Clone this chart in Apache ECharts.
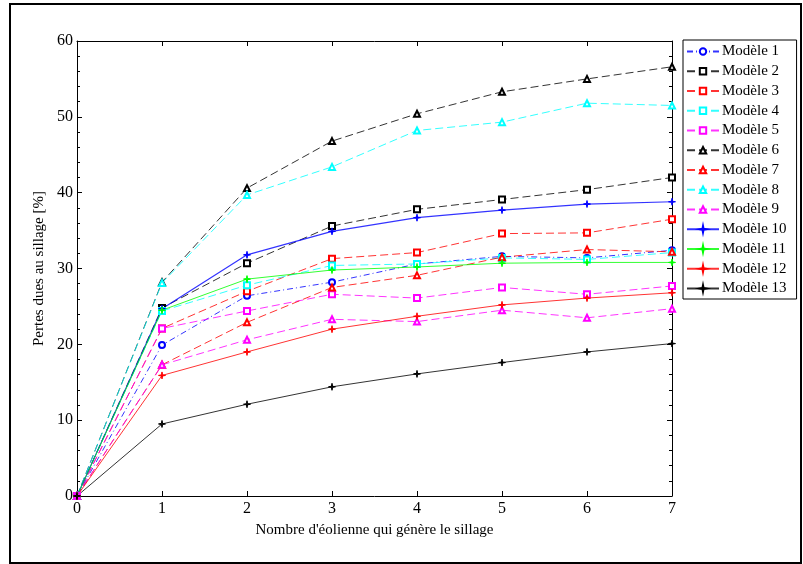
<!DOCTYPE html>
<html><head><meta charset="utf-8">
<script src="https://cdn.jsdelivr.net/npm/echarts@6/dist/echarts.min.js"></script>
<style>html,body{margin:0;padding:0;background:#fff}#c{width:803px;height:564px}</style>
</head><body><div id="c"></div>
<script>
const xCats = [0,1,2,3,4,5,6,7];
const names = ['Modèle 1','Modèle 2','Modèle 3','Modèle 4','Modèle 5','Modèle 6','Modèle 7','Modèle 8','Modèle 9','Modèle 10','Modèle 11','Modèle 12','Modèle 13'];
const m1  = [0,19.9,26.4,28.2,30.6,31.6,31.4,32.4];
const m2  = [0,24.8,30.7,35.6,37.8,39.1,40.4,42.0];
const m3  = [0,22.1,27.0,31.3,32.1,34.6,34.7,36.5];
const m4  = [0,24.4,27.8,30.4,30.6,31.4,31.2,32.1];
const m5  = [0,22.1,24.4,26.6,26.1,27.5,26.6,27.7];
const m6  = [0,28.2,40.6,46.8,50.4,53.3,55.0,56.6];
const m7  = [0,17.3,22.9,27.5,29.1,31.5,32.5,32.2];
const m8  = [0,28.1,39.7,43.4,48.2,49.3,51.8,51.5];
const m9  = [0,17.3,20.6,23.3,23.0,24.5,23.5,24.7];
const m10 = [0,24.7,31.8,34.9,36.7,37.7,38.5,38.8];
const m11 = [0,24.5,28.6,29.8,30.2,30.7,30.8,30.8];
const m12 = [0,15.9,19.0,22.0,23.7,25.2,26.1,26.8];
const m13 = [0,9.5,12.1,14.4,16.1,17.6,19.0,20.1];
const allData = [m1,m2,m3,m4,m5,m6,m7,m8,m9,m10,m11,m12,m13];

const colors = ['#0000ff','#000000','#ff0000','#00ffff','#ff00ff','#000000','#ff0000','#00ffff','#ff00ff','#0000ff','#00ff00','#ff0000','#000000'];
const star = 'path://M0,-6L1,-1L6,0L1,1L0,6L-1,1L-6,0L-1,-1Z';
const symbols = ['emptyCircle','emptyRect','emptyRect','emptyRect','emptyRect','emptyTriangle','emptyTriangle','emptyTriangle','emptyTriangle',star,star,star,star];
const types = [[6,3,1,3],[8,4],[8,4],[8,4],[8,4],[8,4],[8,4],[8,4],[8,4],'solid','solid','solid','solid'];

const F = 'Liberation Serif';
const series = allData.map((d,i)=>({
  name: names[i], type:'line', data: d.map((v,j)=>[xCats[j],v]),
  symbol: symbols[i], symbolSize: i>=9 ? 7 : 6,
  showSymbol:true,
  itemStyle:{color: colors[i], borderColor: colors[i], borderWidth:1},
  lineStyle:{color: colors[i], width: i===9?1.2:1, type: types[i], opacity:0.8},
  emphasis:{disabled:true}, animation:false, z: 2
}));

const tick = {show:true, inside:true, length:5, lineStyle:{color:'#000'}};
const chart = echarts.init(document.getElementById('c'), null, {renderer:'canvas'});
chart.setOption({
  animation:false,
  backgroundColor:'#fff',
  textStyle:{fontFamily:F},
  graphic:[{type:'rect', shape:{x:10,y:4,width:791,height:559}, style:{fill:'none', stroke:'#000', lineWidth:2}, silent:true}],
  grid:{left:77, top:41, width:595, height:455, containLabel:false},
  xAxis:[{type:'value', min:0, max:7, interval:1, position:'bottom',
    name:"Nombre d'éolienne qui génère le sillage", nameLocation:'middle', nameGap:27,
    nameTextStyle:{fontFamily:F, fontSize:15, color:'#000'},
    axisLine:{onZero:false, lineStyle:{color:'#000', width:1}}, axisTick:tick,
    axisLabel:{fontFamily:F, fontSize:16, color:'#000', margin:5}, splitLine:{show:false}},
   {type:'value', min:0, max:7, interval:1, position:'top',
    axisLine:{onZero:false, lineStyle:{color:'#000'}}, axisTick:tick,
    axisLabel:{show:false}, splitLine:{show:false}}],
  yAxis:[{type:'value', min:0, max:60, interval:10, position:'left',
    name:'Pertes dues au sillage [%]', nameLocation:'middle', nameGap:28, nameRotate:90,
    nameTextStyle:{fontFamily:F, fontSize:15, color:'#000'},
    axisLine:{show:true, onZero:false, lineStyle:{color:'#000'}}, axisTick:tick,
    minorTick:{show:true, splitNumber:5, length:3, lineStyle:{color:'#000'}},
    axisLabel:{fontFamily:F, fontSize:16, color:'#000', margin:4}, splitLine:{show:false}},
   {type:'value', min:0, max:60, interval:10, position:'right',
    axisLine:{show:true, onZero:false, lineStyle:{color:'#000'}}, axisTick:tick,
    minorTick:{show:true, splitNumber:5, length:3, lineStyle:{color:'#000'}},
    axisLabel:{show:false}, splitLine:{show:false}}],
  legend:{orient:'vertical', left:683, top:40, padding:[4,10,3,3],
    itemWidth:32, itemHeight:8, itemGap:4.75,
    borderColor:'#000', borderWidth:1, backgroundColor:'#fff',
    textStyle:{fontFamily:F, fontSize:15, lineHeight:15, color:'#000', padding:[0,0,0,-2]},
    data: names, selectedMode:false},
  series: series
});
</script></body></html>
